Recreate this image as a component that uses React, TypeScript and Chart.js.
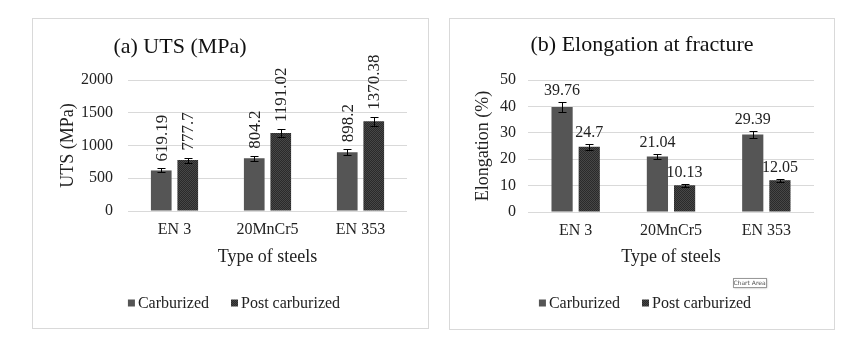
import React, { useEffect, useRef } from "react";
import { Chart, registerables } from "chart.js";
Chart.register(...registerables);

// ---------- data ----------
const steels = ["EN 3", "20MnCr5", "EN 353"];
const seriesNames = ["Carburized", "Post carburized"];
const utsCarburized = [619.19, 804.2, 898.2];
const utsPost = [777.7, 1191.02, 1370.38];
const utsCarbErr = [31, 40, 45];
const utsPostErr = [39, 60, 69];
const utsTicks = [0, 500, 1000, 1500, 2000];
const elongCarburized = [39.76, 21.04, 29.39];
const elongPost = [24.7, 10.13, 12.05];
const elongCarbErr = [2.0, 1.05, 1.47];
const elongPostErr = [1.24, 0.51, 0.6];
const elongTicks = [0, 10, 20, 30, 40, 50];

const SERIF = "'Liberation Serif', 'Times New Roman', serif";

function makePattern(a: string, b: string) {
  const c = document.createElement("canvas");
  c.width = 2;
  c.height = 2;
  const x = c.getContext("2d")!;
  x.fillStyle = a;
  x.fillRect(0, 0, 2, 2);
  x.fillStyle = b;
  x.fillRect(0, 0, 1, 1);
  x.fillRect(1, 1, 1, 1);
  return x.createPattern(c, "repeat")!;
}

type Spec = {
  w: number;
  h: number;
  title: string;
  titleX: number;
  titleY: number;
  yTitle: string;
  ticks: number[];
  carb: number[];
  post: number[];
  carbErr: number[];
  postErr: number[];
  rotated: boolean;
  padRight: number;
  yWidth: number;
  xHeight: number;
  yTickPad: number;
  yTitlePad: number;
  xTitlePad: number;
  legendCx: number;
  legendY: number;
  badge: boolean;
};

function ChartPanel({ spec, left, top }: { spec: Spec; left: number; top: number }) {
  const ref = useRef<HTMLCanvasElement>(null);
  useEffect(() => {
    const canvas = ref.current!;
    const carbFill = "#555555";
    const postFill = makePattern("#2a2a2a", "#474747");
    const errs = [spec.carbErr, spec.postErr];
    const fills: any[] = [carbFill, postFill];

    const plugin = {
      id: "extras",
      afterDatasetsDraw(chart: any) {
        const ctx = chart.ctx;
        const ys = chart.scales.y;
        ctx.save();
        chart.data.datasets.forEach((ds: any, di: number) => {
          const meta = chart.getDatasetMeta(di);
          meta.data.forEach((bar: any, i: number) => {
            const v = ds.data[i];
            const e = errs[di][i];
            const yTop = ys.getPixelForValue(v + e);
            const yBot = ys.getPixelForValue(v - e);
            const x = Math.round(bar.x) + 0.5;
            ctx.strokeStyle = "#000";
            ctx.lineWidth = 1;
            ctx.beginPath();
            ctx.moveTo(x, Math.round(yTop) + 0.5);
            ctx.lineTo(x, Math.round(yBot) + 0.5);
            ctx.moveTo(x - 4, Math.round(yTop) + 0.5);
            ctx.lineTo(x + 4, Math.round(yTop) + 0.5);
            ctx.moveTo(x - 4, Math.round(yBot) + 0.5);
            ctx.lineTo(x + 4, Math.round(yBot) + 0.5);
            ctx.stroke();
            // value label
            ctx.fillStyle = "#222";
            ctx.font = `16px ${SERIF}`;
            const label = String(v);
            if (spec.rotated) {
              ctx.save();
              ctx.translate(bar.x + 1, yTop - 7);
              ctx.rotate(-Math.PI / 2);
              ctx.textAlign = "left";
              ctx.textBaseline = "middle";
              ctx.font = `17px ${SERIF}`;
              ctx.fillText(label, 0, 0);
              ctx.restore();
            } else {
              ctx.textAlign = "center";
              ctx.textBaseline = "alphabetic";
              ctx.fillText(label, bar.x, yTop - 7);
            }
          });
        });
        ctx.restore();
      },
      afterDraw(chart: any) {
        const ctx = chart.ctx;
        ctx.save();
        // title
        ctx.fillStyle = "#111";
        ctx.font = `22px ${SERIF}`;
        ctx.textAlign = "center";
        ctx.textBaseline = "middle";
        ctx.fillText(spec.title, spec.titleX, spec.titleY);
        // legend
        ctx.font = `16px ${SERIF}`;
        const gapIn = 3;
        const gapOut = 22;
        const box = 7;
        const widths = seriesNames.map((n) => ctx.measureText(n).width);
        const total = widths.reduce((a, b) => a + b, 0) + 2 * (box + gapIn) + gapOut;
        let x = spec.legendCx - total / 2;
        seriesNames.forEach((n, i) => {
          ctx.fillStyle = fills[i];
          ctx.fillRect(x, spec.legendY - box / 2, box, box);
          x += box + gapIn;
          ctx.fillStyle = "#222";
          ctx.textAlign = "left";
          ctx.fillText(n, x, spec.legendY + 1);
          x += widths[i] + gapOut;
        });
        if (spec.badge) {
          const bx = 283, by = 259, bw = 33, bh = 9;
          ctx.fillStyle = "#fff";
          ctx.shadowColor = "rgba(0,0,0,0.35)";
          ctx.shadowBlur = 2;
          ctx.shadowOffsetX = 1;
          ctx.shadowOffsetY = 1;
          ctx.fillRect(bx, by, bw, bh);
          ctx.shadowColor = "transparent";
          ctx.strokeStyle = "#999";
          ctx.strokeRect(bx + 0.5, by + 0.5, bw, bh);
          ctx.fillStyle = "#555";
          ctx.font = `6px 'DejaVu Sans', sans-serif`;
          ctx.textAlign = "center";
          ctx.fillText("Chart Area", bx + bw / 2, by + bh / 2 + 1);
        }
        ctx.restore();
      },
    };

    const chart = new Chart(canvas, {
      type: "bar",
      data: {
        labels: steels,
        datasets: [
          {
            label: seriesNames[0],
            data: spec.carb,
            backgroundColor: carbFill,
            categoryPercentage: 0.57,
            barPercentage: 0.78,
          },
          {
            label: seriesNames[1],
            data: spec.post,
            backgroundColor: postFill as any,
            categoryPercentage: 0.57,
            barPercentage: 0.78,
          },
        ],
      },
      options: {
        responsive: false,
        animation: false,
        devicePixelRatio: 1,
        layout: { padding: { top: 61, right: spec.padRight, left: 0, bottom: 0 } },
        plugins: {
          legend: { display: false },
          tooltip: { enabled: false },
          title: { display: false },
        },
        scales: {
          x: {
            grid: { display: false, drawTicks: false },
            border: { display: false },
            ticks: { color: "#222", font: { family: SERIF, size: 16 }, padding: 9 },
            title: {
              display: true,
              text: "Type of steels",
              color: "#222",
              font: { family: SERIF, size: 18 },
              padding: { top: 0, bottom: spec.xTitlePad },
            },
            afterFit: (s: any) => {
              s.height = spec.xHeight;
            },
          },
          y: {
            min: spec.ticks[0],
            max: spec.ticks[spec.ticks.length - 1],
            afterBuildTicks: (s: any) => {
              s.ticks = spec.ticks.map((v) => ({ value: v }));
            },
            grid: { color: "#d9d9d9", drawTicks: false, lineWidth: 1 },
            border: { display: false },
            ticks: {
              color: "#222",
              font: { family: SERIF, size: 16 },
              padding: spec.yTickPad,
              callback: (v: any) => String(v),
            },
            title: {
              display: true,
              text: spec.yTitle,
              color: "#222",
              font: { family: SERIF, size: 18 },
              padding: { top: spec.yTitlePad, bottom: 0 },
            },
            afterFit: (s: any) => {
              s.width = spec.yWidth;
            },
          },
        },
      } as any,
      plugins: [plugin],
    });
    return () => chart.destroy();
  }, []);
  return (
    <div
      style={{
        position: "absolute",
        left,
        top,
        width: spec.w,
        height: spec.h,
        border: "1px solid #d9d9d9",
        background: "#fff",
      }}
    >
      <canvas ref={ref} width={spec.w} height={spec.h} style={{ display: "block", width: spec.w, height: spec.h }} />
    </div>
  );
}

const leftSpec: Spec = {
  w: 395,
  h: 309,
  title: "(a) UTS (MPa)",
  titleX: 147,
  titleY: 28,
  yTitle: "UTS (MPa)",
  ticks: utsTicks,
  carb: utsCarburized,
  post: utsPost,
  carbErr: utsCarbErr,
  postErr: utsPostErr,
  rotated: true,
  padRight: 21,
  yWidth: 95,
  xHeight: 117,
  yTickPad: 15,
  yTitlePad: 24,
  xTitlePad: 60,
  legendCx: 201,
  legendY: 284,
  badge: false,
};

const rightSpec: Spec = {
  w: 384,
  h: 310,
  title: "(b) Elongation at fracture",
  titleX: 192,
  titleY: 26,
  yTitle: "Elongation (%)",
  ticks: elongTicks,
  carb: elongCarburized,
  post: elongPost,
  carbErr: elongCarbErr,
  postErr: elongPostErr,
  rotated: false,
  padRight: 20,
  yWidth: 78,
  xHeight: 117,
  yTickPad: 12,
  yTitlePad: 22,
  xTitlePad: 61,
  legendCx: 195,
  legendY: 284,
  badge: true,
};

export default function App() {
  return (
    <div>
      <ChartPanel spec={leftSpec} left={32} top={18} />
      <ChartPanel spec={rightSpec} left={449} top={18} />
    </div>
  );
}
